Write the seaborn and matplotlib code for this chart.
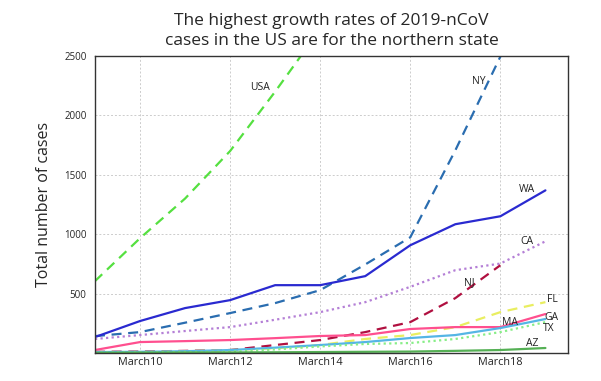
import numpy as np
import pandas as pd
import matplotlib
matplotlib.use("Agg")
import matplotlib.pyplot as plt
import seaborn as sns

# days of March
days = [9, 10, 11, 12, 13, 14, 15, 16, 17, 18, 19]

usa = [605, 966, 1300, 1700, 2200, 2726, 3499, 4632, 6421, 7786, 13680]
ny = [142, 176, 255, 336, 420, 529, 745, 974, 1706, 2495, 5365]
wa = [134, 269, 378, 445, 571, 571, 647, 907, 1084, 1151, 1369]
ca = [118, 151, 185, 218, 280, 344, 428, 557, 697, 753, 940]
nj = [10, 12, 18, 25, 67, 109, 176, 260, 462, 739, np.nan]
fl = [5, 8, 15, 25, 40, 67, 118, 151, 218, 344, 428]
ga = [25, 92, 100, 109, 125, 143, 151, 202, 218, 218, 328]
ma = [8, 10, 15, 25, 45, 67, 92, 126, 151, 210, 286]
tx = [3, 5, 8, 10, 30, 55, 76, 84, 118, 176, 260]
az = [2, 3, 4, 5, 6, 8, 10, 12, 18, 25, 42]

series = {"USA": usa, "NY": ny, "WA": wa, "CA": ca, "NJ": nj, "FL": fl,
          "GA": ga, "MA": ma, "TX": tx, "AZ": az}

styles = {
    "USA": ("#55e040", (0, (4.5, 3))),
    "NY": ("#2a6db0", (0, (4.5, 3))),
    "WA": ("#2a2ad0", "-"),
    "CA": ("#b47fd6", (0, (1, 1.5))),
    "NJ": ("#b01040", (0, (4.5, 3))),
    "FL": ("#e9ee60", (0, (4.5, 3))),
    "GA": ("#ff4f8f", "-"),
    "MA": ("#55b5e5", "-"),
    "TX": ("#88ee88", (0, (1, 1.5))),
    "AZ": ("#55b055", "-"),
}

# label positions (day, value)
labels = {
    "USA": (12.67, 2234), "NY": (17.53, 2285), "WA": (18.6, 1378),
    "CA": (18.58, 941), "NJ": (17.3, 596), "FL": (19.16, 454),
    "GA": (19.13, 302), "TX": (19.07, 210), "MA": (18.22, 260),
    "AZ": (18.7, 84),
}

df = pd.DataFrame(series, index=days)
df.index.name = "day"
long = df.reset_index().melt(id_vars="day", var_name="state", value_name="cases").dropna()

sns.set_style("white")
plt.rcParams['font.family'] = ['Open Sans', 'DejaVu Sans']

fig = plt.figure(figsize=(6.01, 3.81), dpi=100)
ax = fig.add_axes([0.158, 0.0735, 0.787, 0.7795])

for st in series:
    color, ls = styles[st]
    sub = long[long["state"] == st]
    sns.lineplot(data=sub, x="day", y="cases", ax=ax, color=color,
                 linewidth=1.6, legend=False)
    ax.lines[-1].set_linestyle(ls)
    lx, ly = labels[st]
    ax.text(lx, ly, st, fontsize=7.5, color="#222222", ha="center", va="center")

ax.set_xlim(9, 19.5)
ax.set_ylim(0, 2500)
ax.set_xticks(days)
ax.set_xticklabels([f"March{d}" if d % 2 == 0 else "" for d in days], fontsize=7.8)
ax.set_yticks([500, 1000, 1500, 2000, 2500])
ax.set_yticklabels(["500", "1000", "1500", "2000", "2500"], fontsize=7)
ax.tick_params(axis="x", direction="in", length=4, pad=3, color="#333333")
ax.tick_params(axis="y", direction="out", length=4, pad=2, color="#333333")

for d in [10, 12, 14, 16, 18]:
    ax.axvline(d, color="#cccccc", linestyle=(0, (2, 2)), linewidth=0.7, zorder=0)
for v in [500, 1000, 1500, 2000]:
    ax.axhline(v, color="#cccccc", linestyle=(0, (2, 2)), linewidth=0.7, zorder=0)

for sp in ax.spines.values():
    sp.set_color("#333333")
    sp.set_linewidth(1.0)

ax.set_xlabel("")
ax.set_ylabel("Total number of cases", fontsize=11.5, labelpad=9)
ax.set_title("The highest growth rates of 2019-nCoV\ncases in the US are for the northern state",
             fontsize=12.5, pad=8, linespacing=1.35)

fig.savefig("out.png", dpi=100)
